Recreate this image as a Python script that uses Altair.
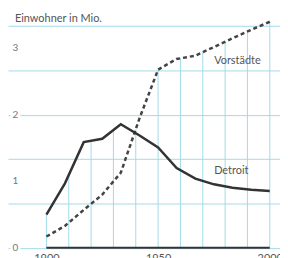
import altair as alt
import pandas as pd
import numpy as np

# data
years = [1900, 1908.3, 1916.7, 1925, 1933.3, 1941.7, 1950, 1958.3, 1966.7, 1975, 1983.3, 1991.7, 2000]
detroit = [0.50, 0.97, 1.59, 1.64, 1.86, 1.69, 1.51, 1.20, 1.04, 0.955, 0.905, 0.875, 0.855]
vorstaedte = [0.17, 0.33, 0.57, 0.80, 1.13, 1.95, 2.68, 2.84, 2.89, 3.02, 3.15, 3.28, 3.40]
decades = [1900, 1910, 1920, 1930, 1940, 1950, 1960, 1970, 1980, 1990, 2000]
y_tick_labels = ["0", "1", "2", "3"]
y_tick_values = [0, 1, 2, 3]
x_tick_values = [1900, 1950, 2000]
grid_values = [0, 1/3, 2/3, 1, 4/3, 5/3, 2, 7/3, 8/3, 3, 10/3, 11/3]

GRID = "#a2dbe9"
FONT = "Lato"
TXT = "#555555"

xs = alt.Scale(domain=[1882.8, 2004.58], nice=False, zero=False)
ys = alt.Scale(domain=[0, 3.593], nice=False, zero=False)

df = pd.DataFrame({"year": years, "Detroit": detroit, "Vorstädte": vorstaedte})
tops = [max(np.interp(d, years, detroit), np.interp(d, years, vorstaedte)) for d in decades]
vdf = pd.DataFrame({"year": decades, "top": tops, "zero": [0] * len(decades)})

xaxis = alt.Axis(values=x_tick_values, grid=False, domain=False, ticks=False,
                 labelFontSize=11, labelColor=TXT, labelFont=FONT, labelPadding=5,
                 title=None, format="d")
yaxis = alt.Axis(values=grid_values, grid=True, gridColor=GRID, gridWidth=1,
                 domain=False, ticks=False, labels=False, title=None)

vrules = alt.Chart(vdf).mark_rule(color=GRID, strokeWidth=1).encode(
    x=alt.X("year:Q", scale=xs, axis=xaxis),
    y=alt.Y("zero:Q", scale=ys, axis=yaxis),
    y2="top:Q",
)

line_det = alt.Chart(df).mark_line(color="#333333", strokeWidth=2.5).encode(
    x=alt.X("year:Q", scale=xs), y=alt.Y("Detroit:Q", scale=ys))
line_vor = alt.Chart(df).mark_line(color="#444444", strokeWidth=2.5, strokeDash=[4, 3]).encode(
    x=alt.X("year:Q", scale=xs), y=alt.Y("Vorstädte:Q", scale=ys))

base_df = pd.DataFrame({"x1": [x_tick_values[0]], "x2": [x_tick_values[-1]], "y": [0]})
baseline = alt.Chart(base_df).mark_rule(color="#333333", strokeWidth=2).encode(
    x=alt.X("x1:Q", scale=xs), x2="x2:Q", y=alt.Y("y:Q", scale=ys))

lab_df = pd.DataFrame({"x": [1886.1] * 4, "y": y_tick_values, "t": y_tick_labels})
lab_bg = alt.Chart(lab_df).mark_point(shape="square", filled=True, color="white", opacity=1, size=100).encode(
    x=alt.X("x:Q", scale=xs), y=alt.Y("y:Q", scale=ys))
lab_txt = alt.Chart(lab_df).mark_text(font=FONT, fontSize=10, color="#777777", align="center", baseline="middle").encode(
    x=alt.X("x:Q", scale=xs), y=alt.Y("y:Q", scale=ys), text="t:N")

ann_df = pd.DataFrame({
    "x": [1885.9, 1975.1, 1975.1],
    "y": [3.39, 2.77, 1.107],
    "t": ["Einwohner in Mio.", "Vorstädte", "Detroit"],
})
ann = alt.Chart(ann_df).mark_text(font=FONT, fontSize=11, color=TXT, align="left", baseline="alphabetic").encode(
    x=alt.X("x:Q", scale=xs), y=alt.Y("y:Q", scale=ys), text="t:N")

chart = alt.layer(vrules, line_vor, line_det, baseline, lab_bg, lab_txt, ann).properties(
    width=274, height=240.7,
    autosize=alt.AutoSizeParams(type="none"),
    padding={"left": 0, "top": 0, "right": 0, "bottom": 10},
    background="white",
).configure_view(stroke=None)

chart.save("out.html", embed_options={"renderer": "svg", "actions": False})
